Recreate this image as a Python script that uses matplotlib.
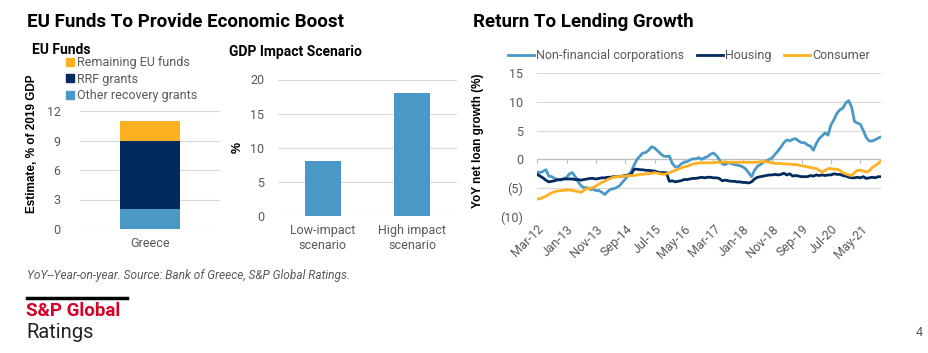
import matplotlib
matplotlib.use('Agg')
import matplotlib.pyplot as plt
import matplotlib.ticker as ticker
import matplotlib.dates as mdates
from matplotlib.patches import Patch
from matplotlib.lines import Line2D
import pandas as pd

# EU funds (% of 2019 GDP)
eu_country = ['Greece']
other_recovery = [2.0]
rrf_grants = [7.0]
remaining_eu = [2.0]

# GDP impact scenario (%)
scenario_labels = ['Low-impact\nscenario', 'High impact\nscenario']
scenario_values = [8.0, 18.0]

# YoY net loan growth (%), monthly Mar-12 .. Dec-21
loan_start = '2012-03-01'
nfc = [-2.2, -2.3, -2.1, -1.8, -2.9, -3.0, -3.3, -3.6, -3.6, -3.4,
       -3.1, -2.5, -2.3, -3.0, -3.9, -4.6, -4.9, -4.9, -5.2, -5.2,
       -5.4, -5.4, -5.7, -6.1, -5.6, -5.2, -5.1, -4.9, -4.6, -4.0,
       -3.4, -2.8, -2.1, -1.0, 0.0, 0.6, 1.1, 1.2, 1.6, 2.2,
       2.0, 1.5, 1.0, 0.6, 0.5, 0.6, -0.7, -1.3, -1.3, -0.8,
       -0.5, -0.4, -0.1, 0.1, 0.1, 0.3, 0.0, 0.3, 0.5, 0.9,
       1.1, 0.7, 0.0, -0.8, -0.9, -0.6, -0.7, -0.9, -1.0, -1.1,
       -1.3, -1.7, -2.3, -3.0, -1.9, -1.2, -0.9, -0.5, -0.3, 0.0,
       0.3, 0.9, 1.5, 2.2, 2.9, 3.4, 3.2, 3.5, 3.6, 3.2,
       2.9, 2.9, 2.5, 2.3, 1.6, 2.8, 3.6, 4.1, 4.6, 4.2,
       6.0, 6.9, 8.0, 8.6, 8.9, 9.8, 10.2, 9.0, 6.6, 6.3,
       6.1, 5.0, 3.8, 3.2, 3.2, 3.4, 3.7, 3.9]
housing = [-2.6, -2.9, -3.2, -3.6, -3.9, -3.8, -3.7, -3.5, -3.5, -3.4,
           -3.4, -3.4, -3.4, -3.5, -3.5, -3.6, -3.5, -3.4, -3.3, -3.3,
           -3.4, -3.3, -3.2, -3.2, -3.1, -3.1, -3.0, -3.0, -3.0, -2.9,
           -2.8, -2.7, -2.6, -1.7, -1.7, -1.8, -1.8, -1.9, -1.9, -2.0,
           -2.0, -2.2, -2.3, -2.3, -2.3, -3.8, -3.7, -3.9, -3.8, -3.7,
           -3.5, -3.5, -3.4, -3.3, -3.3, -3.2, -3.1, -3.2, -3.1, -3.1,
           -3.2, -3.2, -3.3, -3.7, -3.6, -3.7, -3.8, -3.8, -3.9, -3.9,
           -4.0, -4.0, -4.1, -3.9, -3.4, -3.1, -3.0, -2.9, -2.8, -2.7,
           -2.7, -2.6, -2.7, -2.6, -2.4, -2.7, -2.5, -2.9, -2.8, -2.9,
           -3.0, -3.0, -3.0, -2.8, -2.9, -2.7, -2.8, -2.7, -2.8, -2.7,
           -2.7, -2.5, -2.6, -2.6, -2.8, -2.9, -3.1, -3.2, -3.2, -3.1,
           -3.2, -3.0, -3.3, -3.2, -3.1, -3.2, -3.0, -3.0]
consumer = [-6.9, -6.8, -6.6, -6.4, -6.1, -5.8, -5.6, -5.5, -5.4, -5.4,
            -5.3, -5.3, -5.4, -5.5, -5.6, -5.7, -5.3, -5.1, -5.0, -4.9,
            -4.6, -4.3, -4.0, -3.8, -3.5, -3.3, -3.1, -3.0, -3.0, -2.9,
            -2.9, -2.8, -2.8, -2.8, -2.7, -2.6, -2.6, -2.5, -2.5, -2.4,
            -2.3, -2.4, -2.5, -2.6, -2.5, -2.3, -2.1, -1.9, -1.7, -1.5,
            -1.3, -1.2, -1.0, -0.8, -0.7, -0.6, -0.6, -0.6, -0.6, -0.6,
            -0.6, -0.5, -0.5, -0.5, -0.4, -0.5, -0.5, -0.5, -0.5, -0.5,
            -0.5, -0.5, -0.5, -0.5, -0.5, -0.5, -0.4, -0.4, -0.4, -0.5,
            -0.6, -0.7, -0.7, -0.7, -0.8, -0.8, -0.8, -0.9, -0.9, -1.0,
            -1.1, -1.2, -1.3, -1.4, -1.5, -1.6, -1.9, -2.2, -1.9, -1.6,
            -1.6, -1.7, -1.7, -1.9, -2.3, -2.5, -2.7, -2.8, -2.3, -1.9,
            -1.9, -2.0, -2.2, -2.0, -1.4, -1.1, -0.7, -0.3]

LIGHT = '#4A98C6'
NAVY = '#002B5C'
ORANGE = '#FDB022'
GRID = '#D9D9D9'
TXT = '#595959'

W, H = 929, 353
plt.rcParams['font.family'] = ['Roboto', 'DejaVu Sans']


def px_axes(fig, x0, y0, x1, y1):
    # pixel box (top-left origin) -> figure axes
    return fig.add_axes([x0 / W, 1 - y1 / H, (x1 - x0) / W, (y1 - y0) / H])


def style(ax):
    for s in ax.spines.values():
        s.set_visible(False)
    ax.grid(axis='y', color=GRID, linewidth=0.8)
    ax.set_axisbelow(True)
    ax.tick_params(length=0, labelsize=9, labelcolor=TXT, pad=6)


fig = plt.figure(figsize=(W / 100, H / 100), dpi=100)
fig.patch.set_facecolor('white')

fig.text(27 / W, 1 - 22 / H, 'EU Funds To Provide Economic Boost', fontsize=13.5,
         fontweight='bold', va='center', color='black')
fig.text(473 / W, 1 - 22 / H, 'Return To Lending Growth', fontsize=13.5,
         fontweight='bold', va='center', color='black')
fig.text(32 / W, 1 - 50 / H, 'EU Funds', fontsize=10, fontweight='bold', va='center')
fig.text(229 / W, 1 - 52 / H, 'GDP Impact Scenario', fontsize=10, fontweight='bold', va='center')

# ---- EU funds stacked bar
ax1 = px_axes(fig, 80, 111, 220, 229)
style(ax1)
ax1.bar(eu_country, other_recovery, width=0.43, color=LIGHT)
ax1.bar(eu_country, rrf_grants, width=0.43, bottom=other_recovery, color=NAVY)
ax1.bar(eu_country, remaining_eu, width=0.43,
        bottom=[a + b for a, b in zip(other_recovery, rrf_grants)], color=ORANGE)
ax1.set_ylim(0, 12)
ax1.set_xlim(-0.5, 0.5)
ax1.set_yticks([0, 3, 6, 9, 12])
ax1.tick_params(axis='y', pad=14)
ax1.set_ylabel('Estimate, % of 2019 GDP', family=['Liberation Sans'], fontsize=8.5,
               fontweight='bold', labelpad=4)
ax1.yaxis.set_label_coords(-0.30, 0.72)
handles = [Patch(color=ORANGE), Patch(color=NAVY), Patch(color=LIGHT)]
fig.legend(handles, ['Remaining EU funds', 'RRF grants', 'Other recovery grants'],
           loc='upper left', bbox_to_anchor=(66 / W, 1 - 56 / H), frameon=False,
           fontsize=9, labelcolor=TXT, handlelength=0.6, handleheight=0.6,
           handletextpad=0.3, labelspacing=0.3, borderpad=0, borderaxespad=0)

# ---- GDP impact scenario
ax2 = px_axes(fig, 278, 79.5, 457, 216)
style(ax2)
ax2.bar(range(len(scenario_values)), scenario_values, width=0.4, color=LIGHT)
ax2.set_xlim(-0.5, 1.5)
ax2.set_ylim(0, 20)
ax2.set_yticks([0, 5, 10, 15, 20])
ax2.set_xticks(range(len(scenario_labels)))
ax2.set_xticklabels(scenario_labels, linespacing=1.15)
ax2.tick_params(axis='y', pad=10)
ax2.set_ylabel('%', family=['Liberation Sans'], fontsize=9, fontweight='bold')
ax2.yaxis.set_label_coords(-0.19, 0.5)

# ---- lending growth lines
dates = pd.date_range(loan_start, periods=len(nfc), freq='MS')
ax3 = px_axes(fig, 537, 73, 881, 217)
style(ax3)
ax3.axhline(0, color='#BFBFBF', linewidth=0.9, zorder=1)
ax3.plot(dates, nfc, color=LIGHT, linewidth=2.0, label='Non-financial corporations')
ax3.plot(dates, housing, color=NAVY, linewidth=2.0, label='Housing')
ax3.plot(dates, consumer, color=ORANGE, linewidth=2.0, label='Consumer')
ax3.set_xlim(dates[0], dates[-1])
ax3.set_ylim(-10, 15)
ax3.set_yticks([-10, -5, 0, 5, 10, 15])
ax3.yaxis.set_major_formatter(ticker.FuncFormatter(
    lambda v, _: '({:.0f})'.format(-v) if v < 0 else '{:.0f}'.format(v)))
ax3.set_xticks(dates[::10])
ax3.xaxis.set_major_formatter(mdates.DateFormatter('%b-%y'))
ax3.tick_params(axis='x', rotation=45, pad=4)
for lab in ax3.get_xticklabels():
    lab.set_ha('right')
    lab.set_rotation_mode('anchor')
ax3.tick_params(axis='y', pad=10)
for d in dates[::10]:
    ax3.plot([d, d], [0, -0.6], color='#BFBFBF', linewidth=0.8, zorder=1)
ax3.set_ylabel('YoY net loan growth (%)', family=['Liberation Sans'], fontsize=8.5,
               fontweight='bold')
ax3.yaxis.set_label_coords(-0.155, 0.53)
ax3.legend(loc='upper left', bbox_to_anchor=(-29 / 344, 1 + 24 / 144), ncol=3, frameon=False,
           fontsize=9, labelcolor=TXT, handlelength=2.1, handletextpad=0.15,
           columnspacing=1.0, borderpad=0, borderaxespad=0)

# ---- footer
fig.text(27 / W, 1 - 275 / H, 'YoY--Year-on-year. Source: Bank of Greece, S&P Global Ratings.',
         fontsize=8.6, style='italic', color=TXT, va='center')
fig.add_artist(Line2D([27 / W, 127 / W], [1 - 298 / H, 1 - 298 / H], color='black',
                      linewidth=2.5))
fig.text(26 / W, 1 - 311 / H, 'S&P Global', fontsize=13.5, fontweight='bold',
         color='#D6002A', va='center')
fig.text(26 / W, 1 - 332 / H, 'Ratings', fontsize=14.5, color='#222222', va='center')
fig.text(916 / W, 1 - 333 / H, '4', fontsize=9, color=TXT, va='center')

fig.savefig('out.png', dpi=100, facecolor='white')
